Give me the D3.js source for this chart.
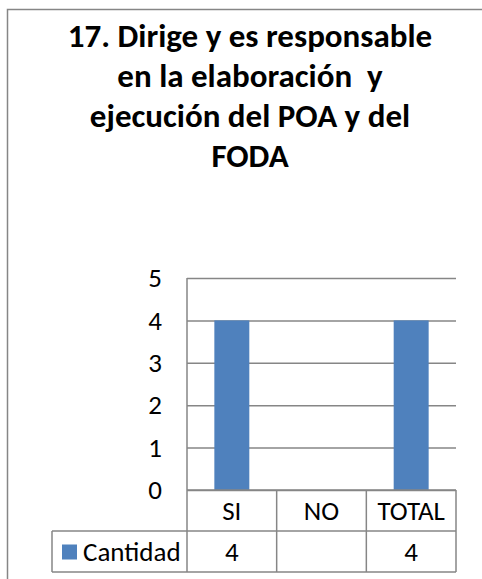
<!DOCTYPE html>
<html>
<head>
<meta charset="utf-8">
<script src="https://cdn.jsdelivr.net/npm/d3@7"></script>
<style>
  body { margin: 0; background: #fff; }
  text { font-family: Carlito, Lato, "Open Sans", sans-serif; fill: #000; }
</style>
</head>
<body>
<div id="chart"></div>
<script>
var titleLines = ["17. Dirige y es responsable", "en la elaboración  y", "ejecución del POA y del", "FODA"];
var categories = ["SI", "NO", "TOTAL"];
var cantidad = [4, null, 4];
var seriesName = "Cantidad";
var yTicks = [0, 1, 2, 3, 4, 5];

var width = 482, height = 579;
var gridColor = "#868686";
var barColor = "#4f81bd";
var fontSize = "27px";

var svg = d3.select("#chart").append("svg")
    .attr("width", width)
    .attr("height", height);

// chart frame (only left and top edges visible)
svg.append("rect")
    .attr("x", 7.5).attr("y", 9.5)
    .attr("width", 500).attr("height", 600)
    .attr("fill", "none")
    .attr("stroke", gridColor)
    .attr("stroke-width", 1.5);

svg.append("g").selectAll("text")
    .data(titleLines)
    .enter().append("text")
    .attr("x", 250)
    .attr("y", function(d, i) { return 47 + i * 40; })
    .attr("text-anchor", "middle")
    .style("font-size", "33px")
    .style("font-weight", "bold")
    .style("white-space", "pre")
    .text(function(d) { return d; });

var plotLeft = 187, plotRight = 456, plotTop = 278, plotBottom = 490;
var rowH = 41;

var x = d3.scaleBand().domain(categories).range([plotLeft, plotRight]).padding(0);
var y = d3.scaleLinear().domain([0, 5]).range([plotBottom, plotTop]);

// gridlines
var yAxis = d3.axisLeft(y)
    .tickValues(yTicks)
    .tickFormat(d3.format("d"))
    .tickSize(-(plotRight - plotLeft))
    .tickPadding(25);
var gy = svg.append("g")
    .attr("transform", "translate(" + plotLeft + ",0)")
    .call(yAxis);
gy.select(".domain").remove();
gy.selectAll(".tick line").attr("stroke", gridColor).attr("stroke-width", 1.5);
gy.selectAll(".tick text")
    .style("font-size", fontSize)
    .style("font-family", "Carlito, Lato, sans-serif")
    .attr("fill", "#000");

// bars
var barW = x.bandwidth() * 0.39;
svg.append("g").selectAll("rect")
    .data(categories.map(function(c, i) { return { cat: c, value: cantidad[i] }; })
      .filter(function(d) { return d.value != null; }))
    .enter().append("rect")
    .attr("x", function(d) { return x(d.cat) + (x.bandwidth() - barW) / 2; })
    .attr("width", barW)
    .attr("y", function(d) { return y(d.value); })
    .attr("height", function(d) { return y(0) - y(d.value); })
    .attr("fill", barColor);

// y axis line
svg.append("line")
    .attr("x1", plotLeft).attr("x2", plotLeft)
    .attr("y1", plotTop).attr("y2", plotBottom)
    .attr("stroke", gridColor).attr("stroke-width", 1.5);

// data table
var table = svg.append("g").attr("stroke", gridColor).attr("stroke-width", 1.5);
table.append("line").attr("x1", plotLeft).attr("x2", plotRight).attr("y1", plotBottom).attr("y2", plotBottom);
table.append("line").attr("x1", 52).attr("x2", plotRight).attr("y1", plotBottom + rowH).attr("y2", plotBottom + rowH);
table.append("line").attr("x1", 52).attr("x2", plotRight).attr("y1", plotBottom + 2 * rowH).attr("y2", plotBottom + 2 * rowH);
table.append("line").attr("x1", 52).attr("x2", 52).attr("y1", plotBottom + rowH).attr("y2", plotBottom + 2 * rowH);
table.selectAll(".vline")
    .data(categories.concat(["end"]))
    .enter().append("line")
    .attr("class", "vline")
    .attr("x1", function(d) { return d === "end" ? plotRight : x(d); })
    .attr("x2", function(d) { return d === "end" ? plotRight : x(d); })
    .attr("y1", plotBottom)
    .attr("y2", plotBottom + 2 * rowH);

svg.append("g").selectAll("text")
    .data(categories)
    .enter().append("text")
    .attr("x", function(d) { return x(d) + x.bandwidth() / 2; })
    .attr("y", plotBottom + rowH / 2)
    .attr("dy", "0.35em")
    .attr("text-anchor", "middle")
    .style("font-size", fontSize)
    .text(function(d) { return d; });

svg.append("g").selectAll("text")
    .data(categories.map(function(c, i) { return { cat: c, value: cantidad[i] }; }))
    .enter().append("text")
    .attr("x", function(d) { return x(d.cat) + x.bandwidth() / 2; })
    .attr("y", plotBottom + rowH * 1.5)
    .attr("dy", "0.35em")
    .attr("text-anchor", "middle")
    .style("font-size", fontSize)
    .text(function(d) { return d.value == null ? "" : d.value; });

// legend key
svg.append("rect")
    .attr("x", 62).attr("y", plotBottom + rowH * 1.5 - 7)
    .attr("width", 15).attr("height", 15)
    .attr("fill", barColor);
svg.append("text")
    .attr("x", 83)
    .attr("y", plotBottom + rowH * 1.5)
    .attr("dy", "0.35em")
    .style("font-size", fontSize)
    .text(seriesName);
</script>
</body>
</html>
